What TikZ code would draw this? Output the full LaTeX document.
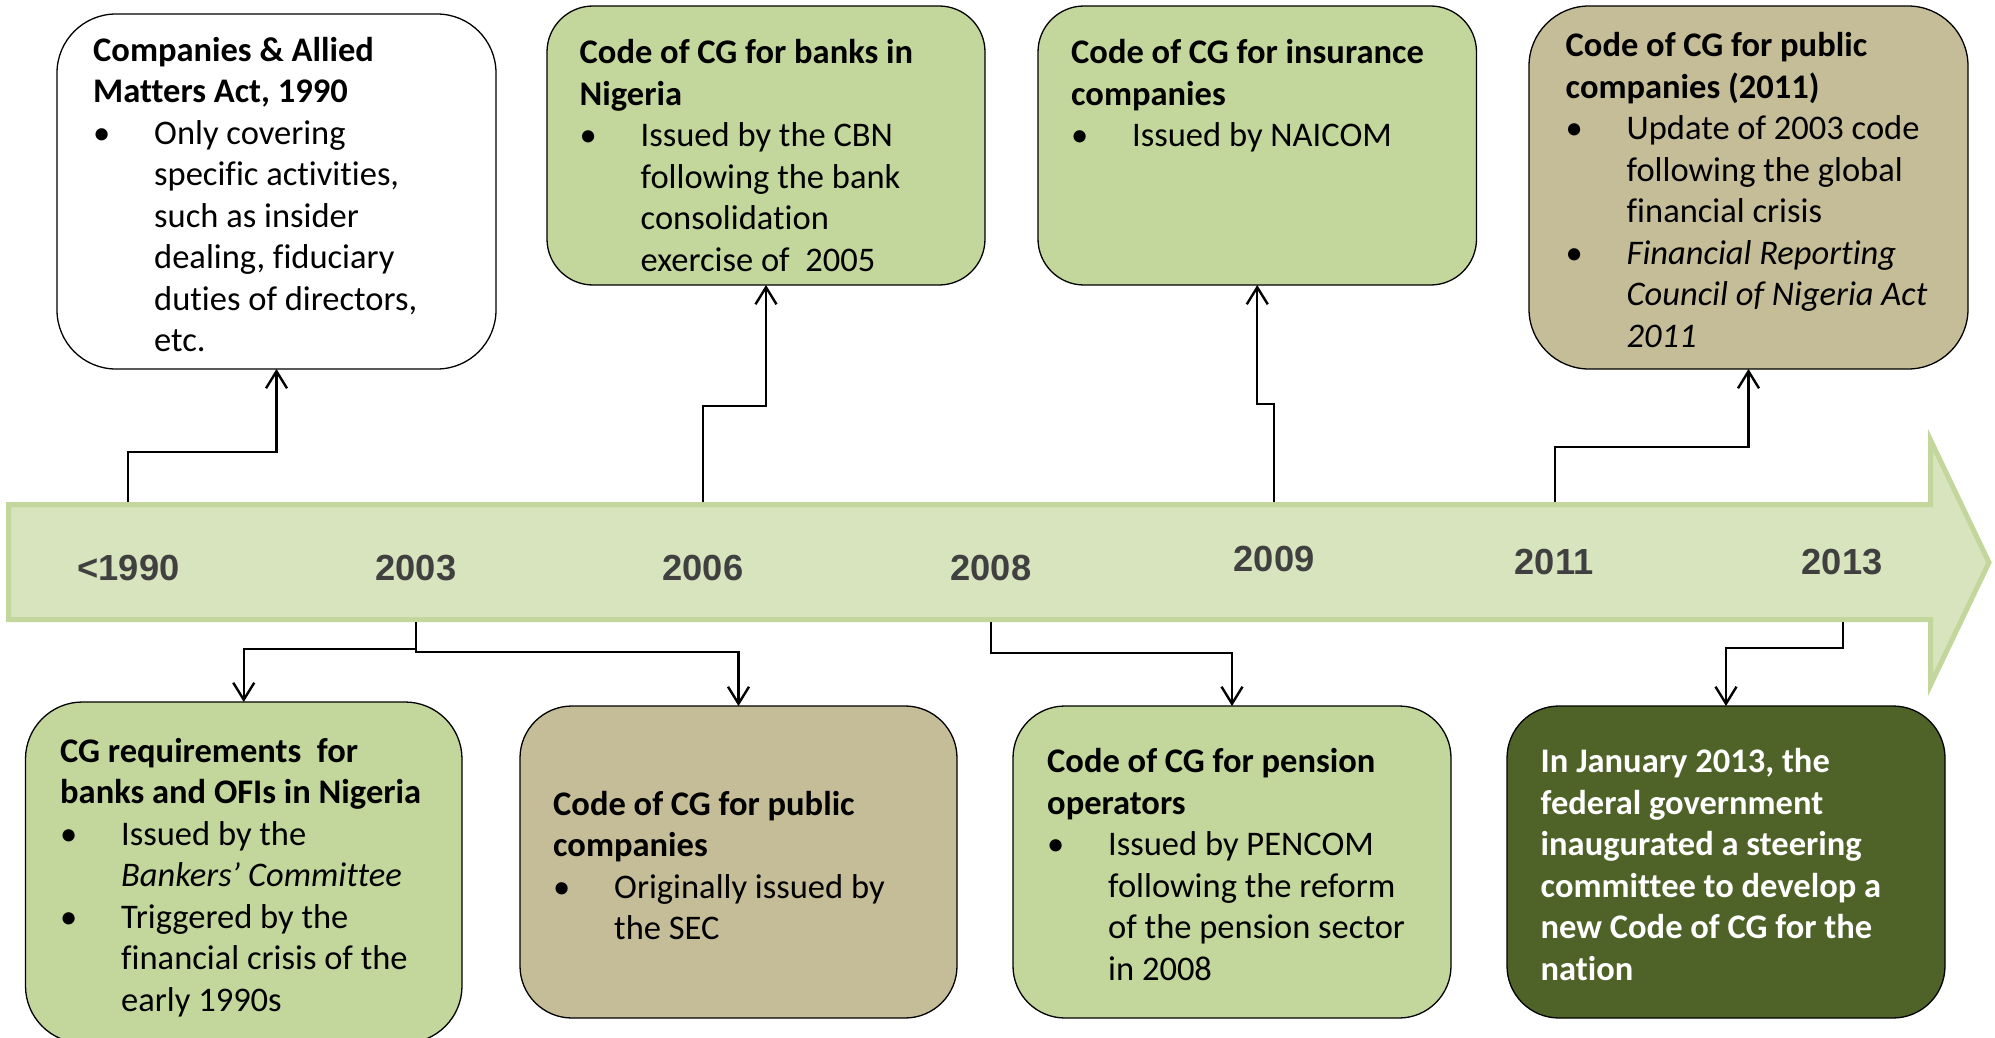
\documentclass[tikz,border=0pt]{standalone}
\usepackage{fontspec}
\setmainfont{Carlito}[Ligatures=NoCommon]
\newfontfamily\yearfont{Liberation Sans}
\usetikzlibrary{arrows.meta}
\definecolor{lgreen}{HTML}{C3D69B}
\definecolor{tanbox}{HTML}{C4BD97}
\definecolor{dgreen}{HTML}{4F6228}
\definecolor{barfill}{HTML}{D7E4BD}
\definecolor{yeargray}{HTML}{404040}
\newcommand{\bul}{\makebox[61pt][l]{•}}
\newcommand{\ind}{\hspace*{61pt}}
\begin{document}
\begin{tikzpicture}[x=1pt,y=-1pt,
  cgbox/.style={draw=black, line width=1.3pt, rectangle, inner sep=0pt, outer sep=0pt},
  boxtext/.style={anchor=base west, inner sep=0pt, align=left, font=\fontsize{34.5}{41.5}\selectfont},
  yearlbl/.style={anchor=base, inner sep=0pt, text=yeargray, font=\yearfont\bfseries\fontsize{36.3}{40}\selectfont},
  conn/.style={draw=black, line width=2.4pt, -{Straight Barb[length=17pt,width=21pt]}},
]
\useasboundingbox (0,0) rectangle (1995,1038);

% timeline arrow
\path[fill=barfill, draw=lgreen, line width=5pt, miter limit=10]
  (8.5,504.5) -- (1930.5,504.5) -- (1930.5,440) -- (1989,562.5) -- (1930.5,685) -- (1930.5,619.5) -- (8.5,619.5) -- cycle;

% boxes
\node[cgbox, fill=white,  rounded corners=59pt, minimum width=439pt, minimum height=355pt] (b1) at (276.5,191.5) {};
\node[cgbox, fill=lgreen, rounded corners=46pt, minimum width=438pt, minimum height=279pt] (b2) at (766,145.5) {};
\node[cgbox, fill=lgreen, rounded corners=46pt, minimum width=438.5pt, minimum height=279pt] (b3) at (1257.25,145.5) {};
\node[cgbox, fill=tanbox, rounded corners=60pt, minimum width=439pt, minimum height=363pt] (b4) at (1748.5,187.5) {};
\node[cgbox, fill=lgreen, rounded corners=57pt, minimum width=436.5pt, minimum height=341pt] (b5) at (243.75,872.5) {};
\node[cgbox, fill=tanbox, rounded corners=52pt, minimum width=437pt, minimum height=312pt] (b6) at (738.5,862) {};
\node[cgbox, fill=lgreen, rounded corners=52pt, minimum width=438pt, minimum height=312pt] (b7) at (1232,862) {};
\node[cgbox, fill=dgreen, rounded corners=52pt, minimum width=438pt, minimum height=312pt] (b8) at (1726,862) {};

% years
\node[yearlbl] (y1990) at (128.5,580) {<1990};
\node[yearlbl] (y2003) at (416,580) {2003};
\node[yearlbl] (y2006) at (703,580) {2006};
\node[yearlbl] (y2008) at (991,580) {2008};
\node[yearlbl] (y2009) at (1274,571.5) {2009};
\node[yearlbl] (y2011) at (1554,574) {2011};
\node[yearlbl] (y2013) at (1842,574) {2013};

% connector anchors on the timeline
\coordinate (p1990) at (128,502);
\coordinate (p2006) at (703,502);
\coordinate (p2009) at (1274,502);
\coordinate (p2011) at (1555,502);
\coordinate (p2003) at (416,622);
\coordinate (p2008) at (991,622);
\coordinate (p2013) at (1843,622);

\draw[conn] (p1990) -- ++(0,-50) -| (b1.south);
\draw[conn] (p2006) -- ++(0,-96) -| (b2.south);
\draw[conn] (p2009) -- ++(0,-98) -| (b3.south);
\draw[conn] (p2011) -- ++(0,-55) -| (b4.south);
\draw[conn] (p2003) -- ++(0,27) -| (b5.north);
\draw[conn] (p2003) -- ++(0,30) -| (b6.north);
\draw[conn] (p2008) -- ++(0,31) -| (b7.north);
\draw[conn] (p2013) -- ++(0,26) -| (b8.north);

% texts (anchored at the baseline of their last line)
\node[boxtext] (t1) at (93,351.5) {\textbf{Companies \& Allied}\\\textbf{Matters Act, 1990}\\\bul Only covering\\\ind specific activities,\\\ind such as insider\\\ind dealing, fiduciary\\\ind duties of directors,\\\ind etc.};
\node[boxtext] (t2) at (579.5,271) {\textbf{Code of CG for banks in}\\\textbf{Nigeria}\\\bul Issued by the CBN\\\ind following the bank\\\ind consolidation\\\ind exercise of~ 2005};
\node[boxtext] (t3) at (1071,146.5) {\textbf{Code of CG for insurance}\\\textbf{companies}\\\bul Issued by NAICOM};
\node[boxtext] (t4) at (1565.5,347) {\textbf{Code of CG for public}\\\textbf{companies (2011)}\\\bul Update of 2003 code\\\ind following the global\\\ind financial crisis\\\bul \textit{Financial Reporting}\\\ind \textit{Council of Nigeria Act}\\\ind \textit{2011}};
\node[boxtext] (t5) at (60,1011) {\textbf{CG requirements~ for}\\\textbf{banks and OFIs in Nigeria}\\\bul Issued by the\\\ind \textit{Bankers’ Committee}\\\bul Triggered by the\\\ind financial crisis of the\\\ind early 1990s};
\node[boxtext] (t6) at (553,939.5) {\textbf{Code of CG for public}\\\textbf{companies}\\\bul Originally issued by\\\ind the SEC};
\node[boxtext] (t7) at (1047,980) {\textbf{Code of CG for pension}\\\textbf{operators}\\\bul Issued by PENCOM\\\ind following the reform\\\ind of the pension sector\\\ind in 2008};
\node[boxtext, text=white, font=\bfseries\fontsize{34.5}{41.5}\selectfont] (t8) at (1540.5,980) {In January 2013, the\\federal government\\inaugurated a steering\\committee to develop a\\new Code of CG for the\\nation};
\end{tikzpicture}
\end{document}
